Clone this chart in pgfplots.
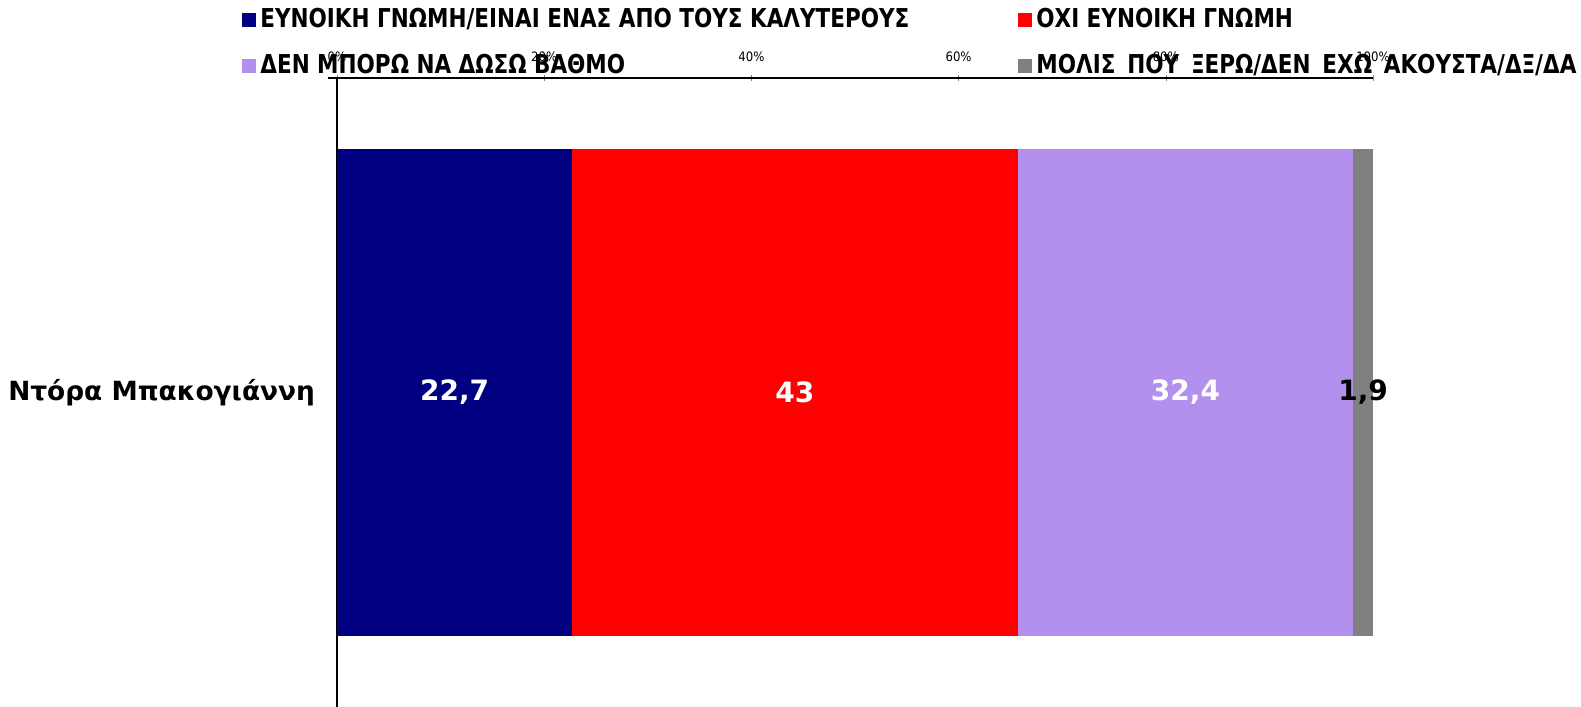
\documentclass[border=0pt]{standalone}
\usepackage{pgfplots}
\pgfplotsset{compat=1.18}
\usepackage{fontspec}
\setmainfont{DejaVu Sans}
\newfontfamily\condfont{DejaVu Sans Condensed}
\newfontfamily\legfont[FakeStretch=0.92]{DejaVu Sans Condensed}
\definecolor{cnavy}{RGB}{0,0,128}
\definecolor{cred}{RGB}{255,0,0}
\definecolor{clav}{RGB}{180,144,238}
\definecolor{cgray}{RGB}{128,128,128}
\begin{document}
\begin{tikzpicture}
\begin{axis}[
 name=ax,
 xbar stacked,
 scale only axis,
 width=518pt, height=314.5pt,
 xmin=0, xmax=100, ymin=-0.5, ymax=0.5,
 bar width=243pt,
 axis x line=top, axis y line=left,
 axis line style={-, black, line width=0.8pt},
 x axis line style={shorten <=-4.5pt},
 xtick={0,20,40,60,80,100},
 xticklabels={0\%,20\%,40\%,60\%,80\%,100\%},
 xticklabel style={font=\condfont\fontsize{6.5}{7}\selectfont, yshift=3pt},
 major tick length=3pt, tick align=center,
 ytick={0}, yticklabels={Ντόρα Μπακογιάννη},
 y tick style={draw=none},
 yticklabel style={font=\bfseries\fontsize{13.2}{15}\selectfont, xshift=-6pt},
 legend columns=2,
 legend cell align=left,
 legend style={draw=none, fill=none, inner sep=0pt, at={(axis description cs:0,1)}, anchor=north west, xshift=-47.5pt, yshift=37pt,
   font=\legfont\bfseries\fontsize{13}{15}\selectfont, row sep=8pt,
   /tikz/every even column/.append style={column sep=59pt}},
 legend image code/.code={\fill[#1, draw=none] (0pt,-3.5pt) rectangle (7pt,3.5pt);},
 point meta=explicit symbolic,
 nodes near coords,
 nodes near coords style={font=\bfseries\fontsize{14}{16}\selectfont, anchor=center},
]
\addplot[fill=cnavy, draw=none, every node near coord/.append style={text=white}] coordinates {(22.7,0) [22,7]};
\addlegendentry{\makebox[318pt][l]{ΕΥΝΟΙΚΗ ΓΝΩΜΗ/ΕΙΝΑΙ ΕΝΑΣ ΑΠΟ ΤΟΥΣ ΚΑΛΥΤΕΡΟΥΣ}}
\addplot[fill=cred, draw=none, every node near coord/.append style={text=white}] coordinates {(43,0) [43]};
\addlegendentry{ΟΧΙ ΕΥΝΟΙΚΗ ΓΝΩΜΗ}
\addplot[fill=clav, draw=none, every node near coord/.append style={text=white}] coordinates {(32.4,0) [32,4]};
\addlegendentry{\makebox[318pt][l]{ΔΕΝ ΜΠΟΡΩ ΝΑ ΔΩΣΩ ΒΑΘΜΟ}}
\addplot[fill=cgray, draw=none, every node near coord/.append style={text=black}] coordinates {(1.9,0) [1,9]};
\addlegendentry{\makebox[270pt][s]{ΜΟΛΙΣ ΠΟΥ ΞΕΡΩ/ΔΕΝ ΕΧΩ ΑΚΟΥΣΤΑ/ΔΞ/ΔΑ}}
\end{axis}
\pgfresetboundingbox
\path[use as bounding box] (ax.south west) +(-168.5pt,0pt) rectangle +(622pt,353.5pt);
\end{tikzpicture}
\end{document}
